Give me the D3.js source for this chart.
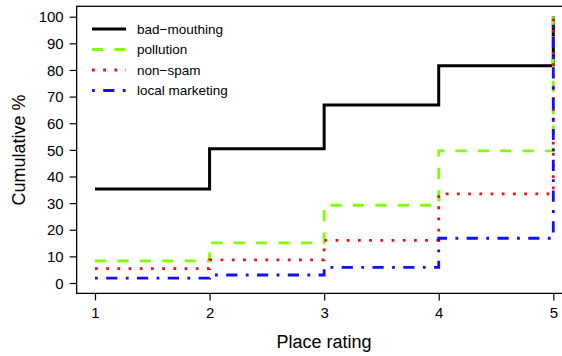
<!DOCTYPE html>
<html><head><meta charset="utf-8">
<script src="https://cdn.jsdelivr.net/npm/d3@7"></script>
<style>html,body{margin:0;padding:0;background:#fff;}svg{display:block;font-family:"Liberation Sans",Arial,sans-serif;}</style>
</head><body>
<svg id="c" width="562" height="356"></svg>
<script>
const ratings = [1, 2, 3, 4, 5];
const seriesNames = ["bad\u2212mouthing", "pollution", "non\u2212spam", "local marketing"];
const badMouthing = [35.3, 50.4, 66.8, 81.6, 100];
const pollution = [8.3, 15.1, 29.2, 49.6, 100];
const nonSpam = [5.4, 8.7, 16.0, 33.5, 100];
const localMarketing = [1.8, 3.0, 5.9, 16.8, 100];
const yTicks = [0, 10, 20, 30, 40, 50, 60, 70, 80, 90, 100];
const xTicks = [1, 2, 3, 4, 5];
const colors = ["#000000", "#7FFF00", "#EE1111", "#1010FF"];
const dashes = ["none", "11.2,11.2", "2.8,8.4", "2.8,8.4,11.2,8.4"];
const widths = [3, 2.8, 2.8, 2.8];

const svg = d3.select("#c");
const x = d3.scaleLinear().domain([1, 5]).range([95, 553.3]);
const y = d3.scaleLinear().domain([0, 100]).range([283, 16.7]);
const xd = [0.84, 5.16], yd = [-3.9, 103.9];

// box
svg.append("rect").attr("x", x(xd[0])).attr("y", y(yd[1]))
  .attr("width", x(xd[1]) - x(xd[0])).attr("height", y(yd[0]) - y(yd[1]))
  .attr("fill", "none").attr("stroke", "#000").attr("stroke-width", 1.3);

// axes
const xAxis = svg.append("g").attr("transform", `translate(0,${y(yd[0])})`)
  .call(d3.axisBottom(x).tickValues(xTicks).tickSize(7).tickPadding(6).tickFormat(d3.format("d")));
const yAxis = svg.append("g").attr("transform", `translate(${x(xd[0])},0)`)
  .call(d3.axisLeft(y).tickValues(yTicks).tickSize(7).tickPadding(6).tickFormat(d3.format("d")));
[xAxis, yAxis].forEach(a => {
  a.select(".domain").remove();
  a.selectAll("line").attr("stroke", "#000").attr("stroke-width", 1.2);
  a.selectAll("text").attr("font-size", 15).attr("fill", "#000")
    .attr("font-family", "'Liberation Sans',Arial,sans-serif");
});
xAxis.selectAll("text").attr("dy", "0.75em");
yAxis.selectAll("text").attr("dy", "0.35em");

// titles
svg.append("text").attr("x", 324).attr("y", 348).attr("text-anchor", "middle")
  .attr("font-size", 18).text("Place rating");
svg.append("text").attr("transform", "translate(25,150) rotate(-90)").attr("text-anchor", "middle")
  .attr("font-size", 18).text("Cumulative %");

// lines
const data = [badMouthing, pollution, nonSpam, localMarketing];
const line = d3.line().x((d, i) => x(ratings[i])).y(d => y(d)).curve(d3.curveStepAfter);
data.forEach((vals, k) => {
  svg.append("path").datum(vals).attr("d", line).attr("fill", "none")
    .attr("stroke", colors[k]).attr("stroke-width", widths[k])
    .attr("stroke-dasharray", dashes[k]).attr("stroke-linejoin", "miter");
});

// legend
const lg = svg.append("g");
seriesNames.forEach((n, k) => {
  const yy = 29 + k * 20.5;
  lg.append("line").attr("x1", 92).attr("x2", 126).attr("y1", yy).attr("y2", yy)
    .attr("stroke", colors[k]).attr("stroke-width", widths[k]).attr("stroke-dasharray", dashes[k]);
  lg.append("text").attr("x", 137).attr("y", yy).attr("dy", "0.35em")
    .attr("font-size", 13.5).text(n);
});
</script>
</body></html>
